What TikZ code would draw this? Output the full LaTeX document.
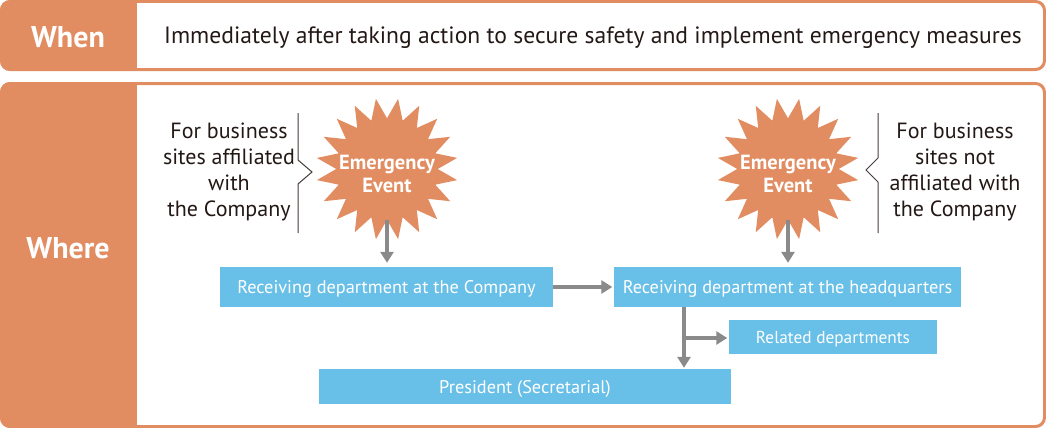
\documentclass[tikz,border=0pt]{standalone}
\usepackage{fontspec}
\setmainfont{PT Sans}
\usetikzlibrary{shapes.geometric,arrows.meta}

\definecolor{frameorange}{HTML}{E18C61}
\definecolor{deptblue}{HTML}{68BFE7}
\definecolor{arrowgray}{HTML}{8A8A8A}
\definecolor{ink}{HTML}{231815}

\tikzset{
  head/.style={text=white, font=\fontsize{30}{34}\selectfont\bfseries},
  note/.style={text=ink, font=\fontsize{22}{26}\selectfont, align=center},
  dept/.style={fill=deptblue, text=white, inner sep=0pt, text depth=0pt, font=\fontsize{18.3}{21}\selectfont},
  burst/.style={star, star points=20, star point ratio=1.4, shape border rotate=9,
    fill=frameorange, minimum size=142pt, inner sep=0pt},
  bursttext/.style={text=white, align=center, font=\fontsize{20.5}{23}\selectfont\bfseries},
  flow/.style={draw=arrowgray, line width=3.5pt, -{Triangle[width=13pt,length=11pt]}},
  brace/.style={draw=ink!85, line width=1pt},
}

\begin{document}
\begin{tikzpicture}[x=1pt,y=-1pt]
  \useasboundingbox (0,0) rectangle (1046,428);
  % When frame
  \begin{scope}
    \clip[rounded corners=10pt] (0,0) rectangle (1046,71);
    \fill[frameorange] (0,0) rectangle (137,71);
  \end{scope}
  \draw[frameorange, line width=3pt, rounded corners=9pt] (1.5,1.5) rectangle (1044.5,69.5);
  % Where frame
  \begin{scope}
    \clip[rounded corners=10pt] (0,82) rectangle (1046,428);
    \fill[frameorange] (0,82) rectangle (137,428);
  \end{scope}
  \draw[frameorange, line width=3pt, rounded corners=9pt] (1.5,83.5) rectangle (1044.5,426.5);

  \node[head] (when) at (68,37) {When};
  \node[note, font=\fontsize{23.6}{26}\selectfont] (whentext) at (593,37.5) {Immediately after taking action to secure safety and implement emergency measures};
  \node[head] (where) at (68,248) {Where};

  % emergency events
  \node[burst] (leftburst) at (387,169) {};
  \node[bursttext] (lefttext) at (387,174) {Emergency\\Event};
  \node[burst] (rightburst) at (788,169) {};
  \node[bursttext] (righttext) at (788,174) {Emergency\\Event};

  \node[note] (leftsite) at (229,172) {For business\\sites affiliated\\with\\the Company};
  \node[note] (rightsite) at (955,172) {For business\\sites not\\affiliated with\\the Company};
  \draw[brace] (298,113) -- (298,160) -- (312,172) -- (298,184) -- (298,233);
  \draw[brace] (878,113) -- (878,158) -- (866,170) -- (878,182) -- (878,233);

  % departments
  \node[dept, minimum width=333pt, minimum height=40pt] (cdept) at (386.5,287) {Receiving department at the Company};
  \node[dept, minimum width=347pt, minimum height=40pt] (hqdept) at (787.5,287) {Receiving department at the headquarters};
  \node[dept, minimum width=208pt, minimum height=34pt, font=\fontsize{17.3}{20}\selectfont] (reldept) at (833,337) {Related departments};
  \node[dept, minimum width=412pt, minimum height=35pt] (pres) at (525,386.5) {President (Secretarial)};

  \coordinate (fork) at (684,338);
  \draw[flow, shorten >=4pt] (leftburst.south) -- (leftburst.south |- cdept.north);
  \draw[flow, shorten >=4pt] (rightburst.south) -- (rightburst.south |- hqdept.north);
  \draw[flow, shorten >=1.5pt] (cdept.east) -- (hqdept.west);
  \draw[flow, shorten >=1pt] (fork |- hqdept.south) -- (fork |- pres.north);
  \draw[flow, shorten >=1.5pt] (fork) -- (fork -| reldept.west);
\end{tikzpicture}
\end{document}
